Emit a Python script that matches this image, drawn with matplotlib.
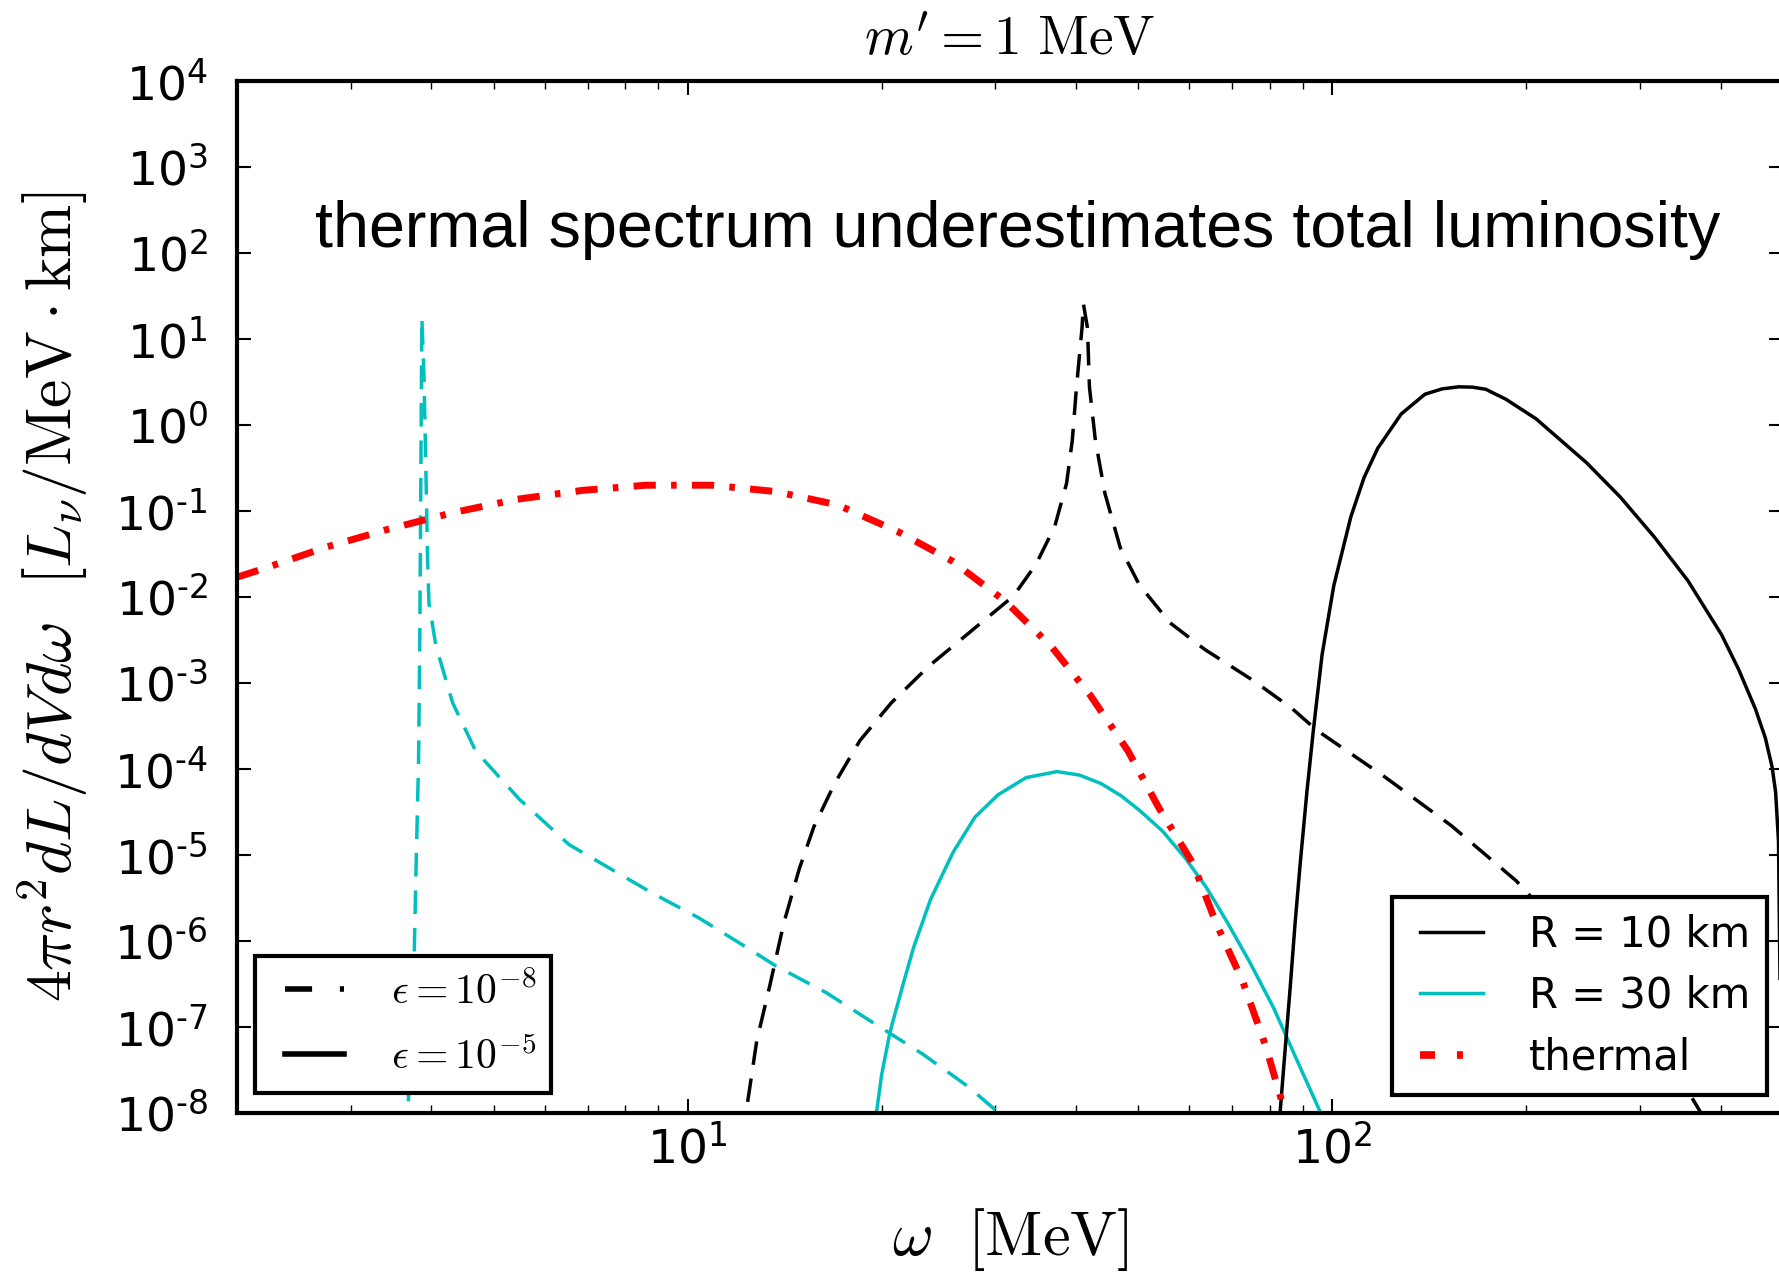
import numpy as np
import matplotlib
matplotlib.use("Agg")
import matplotlib.pyplot as plt
from matplotlib.lines import Line2D
from matplotlib.legend_handler import HandlerLine2D
from matplotlib.ticker import FuncFormatter, NullLocator

# dashes given in points, not scaled with line width
plt.rcParams['lines.scale_dashes'] = False
plt.rcParams['mathtext.fontset'] = 'dejavusans'

# --- data (omega in MeV, log10 of the spectrum) ---
# thermal spectrum
w_th = [2.0, 2.2, 2.75, 3.44, 4.32, 5.42, 6.87, 8.62, 10.9, 13.7, 17.1, 21.2,
        25.7, 31.1, 36.7, 42.1, 48.2, 53.8, 60.8, 66.0, 72.6, 78.8, 83.3, 85.5]
lg_th = [-1.77, -1.67, -1.42, -1.21, -1.02, -0.865, -0.76, -0.70, -0.70,
         -0.774, -0.93, -1.24, -1.58, -2.05, -2.58, -3.14, -3.79, -4.45, -5.10,
         -5.79, -6.47, -7.22, -7.84, -8.2]

# eps = 1e-8, R = 30 km (cyan dashed)
w_c8 = [3.66, 3.68, 3.76, 3.79, 3.825, 3.84, 3.855, 3.87, 3.90, 3.93, 3.95,
        3.97, 4.07, 4.32, 4.69, 5.48, 6.55, 8.8, 10.4, 12.5, 13.7, 16.4, 19.3,
        23.1, 27.2, 28.7, 31.5]
lg_c8 = [-8.3, -8.03, -6.40, -5.19, -3.91, -2.69, -0.80, 1.25, 0.57, -0.68,
         -1.55, -2.07, -2.57, -3.23, -3.79, -4.35, -4.88, -5.44, -5.73, -6.10,
         -6.29, -6.60, -6.94, -7.31, -7.69, -7.84, -8.1]

# eps = 1e-8, R = 10 km (black dashed)
w_k8 = [12.1, 12.3, 12.8, 13.4, 14.1, 14.9, 15.7, 16.9, 18.5, 20.7, 23.7,
        27.9, 32.0, 34.7, 37.1, 38.7, 39.5, 40.1, 40.9, 41.1, 41.7, 42.0, 42.9,
        44.4, 46.9, 50.2, 56.0, 63.4, 75.7, 86.7, 94.6, 120.5, 153.0, 192.8,
        260.0, 330.0, 359.0, 380.0]
lg_k8 = [-8.3, -8.03, -7.16, -6.53, -5.79, -5.16, -4.67, -4.17, -3.67, -3.23,
         -2.80, -2.36, -1.99, -1.62, -1.18, -0.68, -0.18, 0.44, 1.13, 1.41,
         1.13, 0.44, -0.18, -0.80, -1.43, -1.86, -2.30, -2.61, -2.98, -3.30,
         -3.55, -4.09, -4.66, -5.30, -6.35, -7.35, -7.79, -8.1]

# eps = 1e-5, R = 30 km (cyan solid)
w_c5 = [19.3, 19.6, 20.0, 20.6, 21.5, 22.4, 23.8, 25.8, 27.9, 30.3, 33.5,
        37.4, 40.5, 43.8, 47.0, 50.2, 54.5, 59.2, 63.8, 68.8, 74.5, 81.1, 88.9,
        96.6, 98.0]
lg_c5 = [-8.3, -8.03, -7.55, -7.06, -6.55, -6.08, -5.52, -4.97, -4.56, -4.30,
         -4.10, -4.03, -4.07, -4.17, -4.31, -4.48, -4.72, -5.04, -5.38, -5.79,
         -6.25, -6.78, -7.45, -8.05, -8.2]

# eps = 1e-5, R = 10 km (black solid)
w_k5 = [82.6, 82.9, 84.4, 86.0, 87.5, 89.1, 91.3, 93.5, 96.4, 100.5, 106.8,
        112.0, 117.6, 127.9, 139.2, 148.0, 157.0, 165.0, 173.0, 185.8, 207.0,
        248.0, 279.8, 315.6, 356.0, 401.6, 426.6, 453.0, 469.5, 481.0, 487.0,
        492.0, 499.0]
lg_k5 = [-8.3, -8.03, -7.30, -6.55, -5.81, -5.12, -4.27, -3.53, -2.67, -1.87,
         -1.07, -0.61, -0.27, 0.129, 0.358, 0.42, 0.444, 0.44, 0.415, 0.30,
         0.072, -0.44, -0.84, -1.30, -1.81, -2.44, -2.84, -3.30, -3.64, -3.98,
         -4.27, -4.84, -9.0]

yticks = [10.0 ** k for k in range(-8, 5)]


class PaddedLine(HandlerLine2D):
    # legend line that leaves an empty strip on its left
    def __init__(self, pad, **kw):
        super().__init__(**kw)
        self.pad = pad

    def create_artists(self, legend, orig_handle, xdescent, ydescent, width,
                       height, fontsize, trans):
        return super().create_artists(legend, orig_handle, xdescent - self.pad,
                                      ydescent, width - self.pad, height,
                                      fontsize, trans)


fig = plt.figure(figsize=(17.79, 12.72), dpi=100)
ax = fig.add_axes([237 / 1779, 1 - 1113 / 1272, (1783 - 237) / 1779, (1113 - 81) / 1272])

dash = (0, (17, 10))
dashdot = (0, (16, 11, 4, 11))

ax.plot(w_c8, 10.0 ** np.array(lg_c8), color='c', lw=2.5, ls=dash)
ax.plot(w_k8, 10.0 ** np.array(lg_k8), color='k', lw=2.5, ls=dash)
ax.plot(w_c5, 10.0 ** np.array(lg_c5), color='c', lw=2.5)
ax.plot(w_k5, 10.0 ** np.array(lg_k5), color='k', lw=2.5)
ax.plot(w_th, 10.0 ** np.array(lg_th), color='r', lw=5, ls=dashdot)

ax.set_xscale('log')
ax.set_yscale('log')
ax.set_xlim(2, 500)
ax.set_ylim(1e-8, 1e4)


def sup(v, pos):
    e = int(round(np.log10(v)))
    if e < 0:
        return r"$10^{\text{-}%d}$" % (-e)
    return r"$10^{%d}$" % e


ax.set_yticks(yticks)
ax.yaxis.set_minor_locator(NullLocator())
ax.yaxis.set_major_formatter(FuncFormatter(sup))
ax.xaxis.set_major_formatter(FuncFormatter(sup))

for s in ax.spines.values():
    s.set_linewidth(3)
ax.tick_params(which='both', direction='in', top=True, right=True)
ax.tick_params(which='major', length=10, width=1.5, labelsize=34)
ax.tick_params(which='minor', length=6, width=1.0)
ax.tick_params(axis='y', which='major', pad=21)
ax.tick_params(axis='x', which='major', pad=9)

ax.set_title(r"$m' = 1\ \mathrm{MeV}$", fontsize=40, pad=20, math_fontfamily='cm')
ax.set_xlabel(r"$\omega\ \ [\mathrm{MeV}]$", fontsize=45, math_fontfamily='cm')
ax.set_ylabel(r"$4\pi r^2 dL/dVd\omega\ \ [L_\nu/\mathrm{MeV}\cdot\mathrm{km}]$",
              fontsize=46, math_fontfamily='cm')
ax.xaxis.set_label_coords(0.5, -0.090)
ax.yaxis.set_label_coords(-0.095, 0.5)

ax.text(0.505, 0.8556, "thermal spectrum underestimates total luminosity",
        transform=ax.transAxes, ha='center', va='center', fontsize=46.5,
        family=['Liberation Sans', 'DejaVu Sans'])

# legend for the mixing parameter
h1 = [Line2D([], [], color='k', lw=4, ls=(0, (19.5, 20))),
      Line2D([], [], color='k', lw=4)]
leg1 = ax.legend(h1, [r"$\epsilon = 10^{-8}$", r"$\epsilon = 10^{-5}$"],
                 loc='lower left', bbox_to_anchor=(0.0116, 0.0194),
                 borderaxespad=0, fontsize=30, handlelength=1.78,
                 handletextpad=1.12, borderpad=0.36, labelspacing=0.55,
                 fancybox=False, framealpha=1, edgecolor='k',
                 handler_map={Line2D: PaddedLine(10.5)})
leg1.get_frame().set_linewidth(3)
for t in leg1.get_texts():
    t.set_math_fontfamily('cm')
ax.add_artist(leg1)

# legend for the radius / thermal
h2 = [Line2D([], [], color='k', lw=2.5),
      Line2D([], [], color='c', lw=2.5),
      Line2D([], [], color='r', lw=5.5, ls=(0, (10.8, 15.8, 4.3, 20)))]
leg2 = ax.legend(h2, ["R = 10 km", "R = 30 km", "thermal"],
                 loc='lower right', bbox_to_anchor=(0.9894, 0.0174),
                 borderaxespad=0, fontsize=30, handlelength=1.78,
                 handletextpad=1.1, borderpad=0.4, labelspacing=0.47,
                 fancybox=False, framealpha=1, edgecolor='k',
                 handler_map={Line2D: PaddedLine(8.4)})
leg2.get_frame().set_linewidth(3)

fig.savefig("out.png", dpi=100)
